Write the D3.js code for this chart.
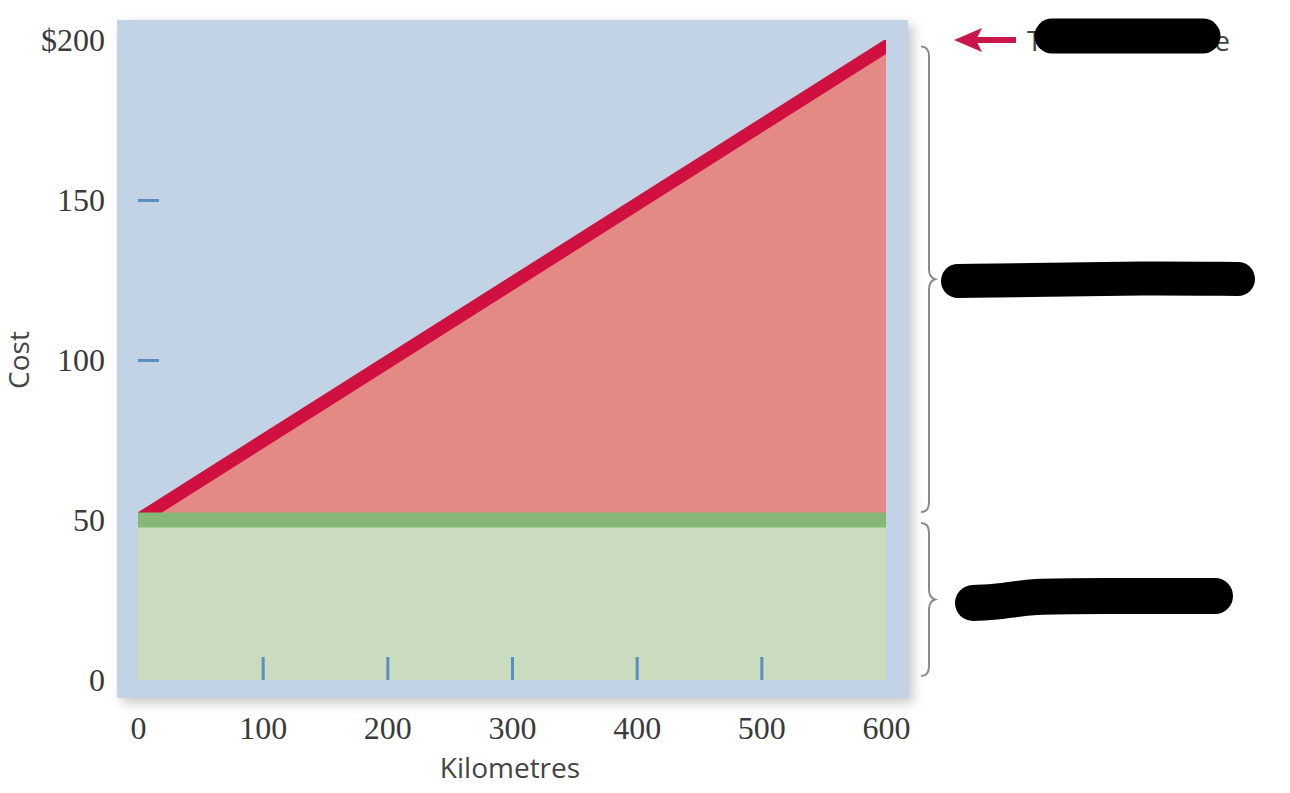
<!DOCTYPE html>
<html>
<head>
<meta charset="utf-8">
<script src="https://cdn.jsdelivr.net/npm/d3@7"></script>
<style>
  body { margin: 0; background: #fff; }
  svg { display: block; }
  .num text { font-family: "Liberation Serif", "DejaVu Serif", serif; font-size: 32px; fill: #3a3a3a; }
  .title { font-family: "Open Sans", "Noto Sans", sans-serif; font-size: 28px; fill: #444; }
</style>
</head>
<body>
<svg id="chart" width="1290" height="793"></svg>
<script>
// Data
const distanceKm = [0, 600];
const totalCost = [50, 198];
const fixedCost = [50, 50];
const xTickValues = [0, 100, 200, 300, 400, 500, 600];
const yTickValues = [0, 50, 100, 150, 200];
const xInnerTicks = [100, 200, 300, 400, 500];
const yInnerTicks = [100, 150];
const labelTop = 'Total cost line';

const svg = d3.select('#chart');

const x = d3.scaleLinear().domain([0, 600]).range([138, 886]);
const y = d3.scaleLinear().domain([0, 200]).range([680, 40]);

// Soft shadow under the blue panel
const defs = svg.append('defs');
defs.append('filter')
  .attr('id', 'shadow')
  .attr('x', '-10%').attr('y', '-10%')
  .attr('width', '130%').attr('height', '130%')
  .append('feDropShadow')
  .attr('dx', 5).attr('dy', 5)
  .attr('stdDeviation', 6)
  .attr('flood-color', '#000')
  .attr('flood-opacity', 0.22);

defs.append('clipPath')
  .attr('id', 'plot-clip')
  .append('rect')
  .attr('x', x(0))
  .attr('y', y(200))
  .attr('width', x(600) - x(0))
  .attr('height', y(0) - y(200));

// Blue panel
svg.append('rect')
  .attr('x', x(0) - 21)
  .attr('y', y(200) - 20)
  .attr('width', x(600) - x(0) + 43)
  .attr('height', y(0) - y(200) + 38)
  .attr('fill', '#c2d3e5')
  .attr('filter', 'url(#shadow)');

const pts = distanceKm.map((d, i) => ({ km: d, total: totalCost[i], fixed: fixedCost[i] }));

// Variable cost area between fixed and total cost
svg.append('path')
  .datum(pts)
  .attr('fill', '#e38a85')
  .attr('d', d3.area()
    .x(d => x(d.km))
    .y0(d => y(d.fixed))
    .y1(d => y(d.total)));

// Total cost line
svg.append('path')
  .datum(pts)
  .attr('clip-path', 'url(#plot-clip)')
  .attr('fill', 'none')
  .attr('stroke', '#d0103f')
  .attr('stroke-width', 13)
  .attr('stroke-linecap', 'square')
  .attr('d', d3.line()
    .x(d => x(d.km))
    .y(d => y(d.total)));

// Fixed cost area
svg.append('path')
  .datum(pts)
  .attr('fill', '#c9dcc0')
  .attr('d', d3.area()
    .x(d => x(d.km))
    .y0(y(0))
    .y1(d => y(d.fixed)));

// Fixed cost line
svg.append('path')
  .datum(pts)
  .attr('fill', 'none')
  .attr('stroke', '#85b877')
  .attr('stroke-width', 15)
  .attr('d', d3.line()
    .x(d => x(d.km))
    .y(d => y(d.fixed)));

// Small blue ticks inside the plot
const innerX = svg.append('g')
  .attr('transform', `translate(0,${y(0)})`)
  .call(d3.axisBottom(x).tickValues(xInnerTicks).tickSize(-23).tickFormat(''));
const innerY = svg.append('g')
  .attr('transform', `translate(${x(0)},0)`)
  .call(d3.axisLeft(y).tickValues(yInnerTicks).tickSize(-21).tickFormat(''));
[innerX, innerY].forEach(g => {
  g.select('.domain').remove();
  g.selectAll('line').attr('stroke', '#5b8fc0').attr('stroke-width', 3);
});

// Tick labels
const xAxisG = svg.append('g')
  .attr('class', 'num')
  .attr('transform', `translate(0,${y(0) + 48})`)
  .call(d3.axisBottom(x).tickValues(xTickValues).tickSize(0).tickPadding(0));
const yAxisG = svg.append('g')
  .attr('class', 'num')
  .attr('transform', `translate(${x(0) - 33},0)`)
  .call(d3.axisLeft(y).tickValues(yTickValues).tickSize(0).tickPadding(0)
    .tickFormat(d => d === 200 ? '$200' : d));
[xAxisG, yAxisG].forEach(g => {
  g.select('.domain').remove();
  g.selectAll('text').attr('font-family', null).attr('font-size', null).attr('fill', null);
});
xAxisG.selectAll('text').attr('dy', '0.34em');
yAxisG.selectAll('text').attr('dy', '0.34em');

// Axis titles
svg.append('text')
  .attr('class', 'title')
  .attr('x', (x(0) + x(600)) / 2 - 2)
  .attr('y', 778)
  .attr('text-anchor', 'middle')
  .text('Kilometres');

svg.append('text')
  .attr('class', 'title')
  .attr('transform', `translate(29,${y(100)}) rotate(-90)`)
  .attr('text-anchor', 'middle')
  .text('Cost');

// Curly braces on the right
function brace(top, bottom, xLine) {
  const mid = (top + bottom) / 2;
  return `M${xLine - 8},${top} Q${xLine},${top} ${xLine},${top + 10}
    L${xLine},${mid - 10} Q${xLine},${mid - 2} ${xLine + 6},${mid}
    Q${xLine},${mid + 2} ${xLine},${mid + 10}
    L${xLine},${bottom - 10} Q${xLine},${bottom} ${xLine - 8},${bottom}`;
}
svg.append('path')
  .attr('d', brace(y(198), y(50) - 8, 929))
  .attr('fill', 'none').attr('stroke', '#8a8a8a').attr('stroke-width', 2);
svg.append('path')
  .attr('d', brace(y(50) + 3, y(0) - 4, 929))
  .attr('fill', 'none').attr('stroke', '#8a8a8a').attr('stroke-width', 2);

// Red arrow pointing at the total cost line
svg.append('line')
  .attr('x1', 1016).attr('x2', 972)
  .attr('y1', y(200)).attr('y2', y(200))
  .attr('stroke', '#c8174a').attr('stroke-width', 6);
svg.append('path')
  .attr('d', `M954,${y(200)} L982,${y(200) - 12} L976,${y(200)} L982,${y(200) + 12} Z`)
  .attr('fill', '#c8174a');

svg.append('text')
  .attr('class', 'title')
  .attr('x', 1027)
  .attr('y', y(200) + 11)
  .attr('font-size', 30)
  .attr('fill', '#555')
  .attr('textLength', 203)
  .attr('lengthAdjust', 'spacing')
  .text(labelTop);

// Black redaction marks over the labels
const marker = d3.line().curve(d3.curveBasis);
const blobs = [
  { w: 35, p: [[1052, 36], [1120, 36], [1203, 36]] },
  { w: 34, p: [[958, 281], [1050, 280], [1140, 278], [1238, 279]] },
  { w: 36, p: [[973, 603], [1000, 602], [1030, 596], [1100, 596], [1215, 596]] }
];
svg.selectAll('path.blob')
  .data(blobs)
  .join('path')
  .attr('class', 'blob')
  .attr('d', d => marker(d.p))
  .attr('fill', 'none')
  .attr('stroke', '#000')
  .attr('stroke-linecap', 'round')
  .attr('stroke-width', d => d.w);
</script>
</body>
</html>
